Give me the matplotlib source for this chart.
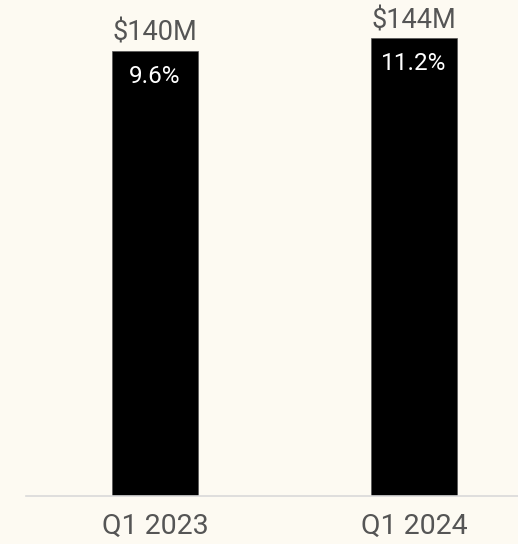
import matplotlib.pyplot as plt

categories = ["Q1 2023", "Q1 2024"]
revenue = [140, 144]  # $M
value_labels = ["$140M", "$144M"]
pct_labels = ["9.6%", "11.2%"]

plt.rcParams['font.family'] = ['Roboto', 'DejaVu Sans']
bg = "#FDFAF2"

fig = plt.figure(figsize=(5.18, 5.44), dpi=100, facecolor=bg)
ax = fig.add_axes([26 / 518, 48 / 544, 492 / 518, 496 / 544], facecolor=bg)

x = range(len(categories))
bars = ax.bar(x, revenue, width=0.332, color="black", edgecolor="#555555", linewidth=0.5)

ax.set_xlim(-0.498, 1.402)
ax.set_ylim(0, 156)

for b, top, pct in zip(bars, value_labels, pct_labels):
    cx = b.get_x() + b.get_width() / 2
    h = b.get_height()
    ax.annotate(top, (cx, h), xytext=(0, 10), textcoords="offset pixels",
                ha="center", va="baseline", fontsize=19.5, color="#555555")
    ax.annotate(pct, (cx, h), xytext=(0, -14), textcoords="offset pixels",
                ha="center", va="top", fontsize=17.5, color="white")

for s in ["top", "right", "left"]:
    ax.spines[s].set_visible(False)
ax.spines["bottom"].set_color("#D9D9D9")
ax.spines["bottom"].set_linewidth(1.2)
ax.set_yticks([])
ax.set_xticks(list(x))
ax.set_xticklabels(categories, fontsize=20.5, color="#555555")
ax.tick_params(axis="x", length=0, pad=12)

fig.savefig("out.png", dpi=100, facecolor=bg)
